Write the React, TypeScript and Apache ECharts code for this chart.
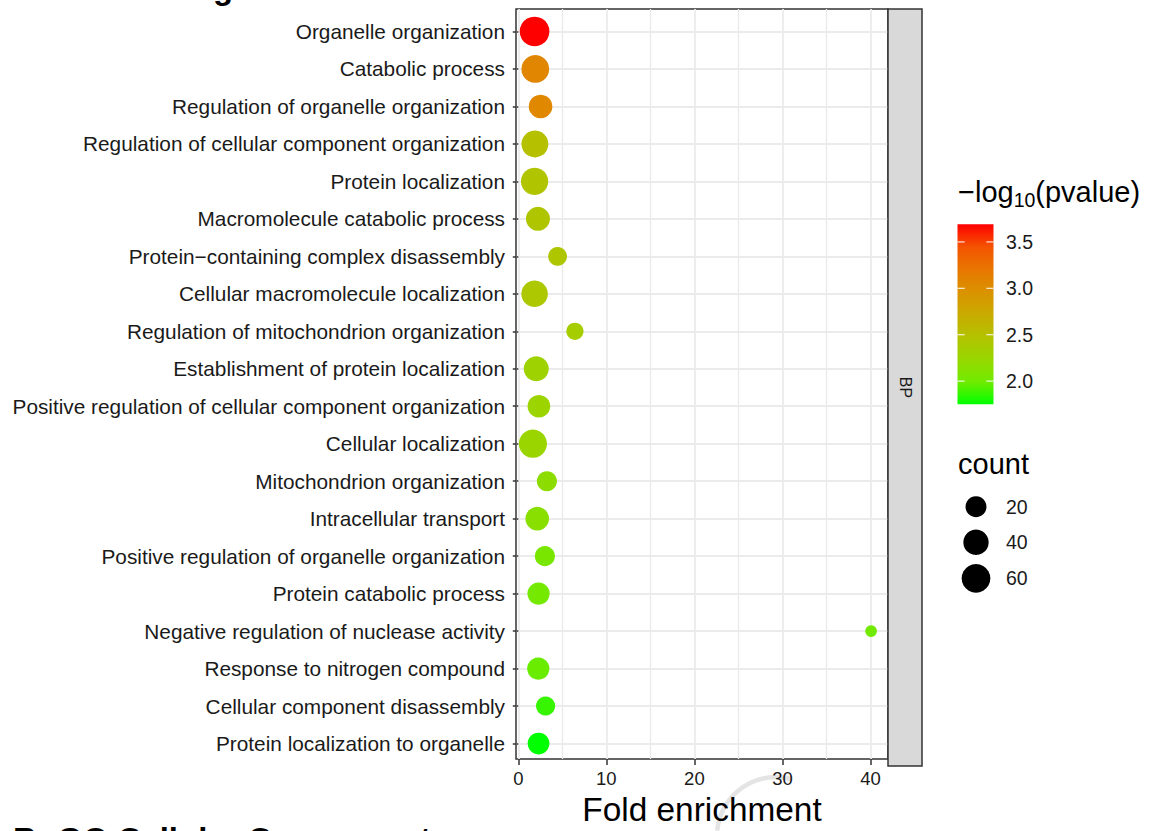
import { useEffect, useRef } from "react";
import * as echarts from "echarts";

// GO biological-process enrichment terms, ordered top to bottom
const terms = [
  "Organelle organization",
  "Catabolic process",
  "Regulation of organelle organization",
  "Regulation of cellular component organization",
  "Protein localization",
  "Macromolecule catabolic process",
  "Protein\u2212containing complex disassembly",
  "Cellular macromolecule localization",
  "Regulation of mitochondrion organization",
  "Establishment of protein localization",
  "Positive regulation of cellular component organization",
  "Cellular localization",
  "Mitochondrion organization",
  "Intracellular transport",
  "Positive regulation of organelle organization",
  "Protein catabolic process",
  "Negative regulation of nuclease activity",
  "Response to nitrogen compound",
  "Cellular component disassembly",
  "Protein localization to organelle",
];

const foldEnrichment = [
  1.85, 1.93, 2.53, 1.89, 1.85, 2.23, 4.46, 1.85, 6.43, 2.04,
  2.34, 1.66, 3.25, 2.15, 3.02, 2.3, 40.07, 2.27, 3.1, 2.3,
];

const geneCount = [
  67, 54, 31, 49, 51, 33, 13, 47, 9, 38,
  27, 57, 17, 31, 17, 25, 3, 25, 14, 23,
];

const negLog10P = [
  3.69, 3.07, 3.05, 2.5, 2.45, 2.44, 2.43, 2.42, 2.35, 2.29,
  2.27, 2.26, 2.17, 2.14, 2.05, 2.02, 2.0, 1.98, 1.87, 1.75,
];

const xTicks = [0, 10, 20, 30, 40];
const xMinorTicks = [5, 15, 25, 35];
const colorBreaks = [2.0, 2.5, 3.0, 3.5];
const sizeBreaks = [20, 40, 60];
const facetLabel = "BP";

// green -> red ramp, sampled in Lab space
const colorStops = [
  "#00FF00", "#70EB00", "#98D700", "#B3C200", "#C9AB00",
  "#DA9200", "#E87600", "#F45300", "#FF0000",
];

const FONT = '"Liberation Sans", Arial, Helvetica, sans-serif';
const W = 1150;
const H = 831;

// panel geometry
const PANEL_L = 516;
const PANEL_T = 9;
const PANEL_W = 372;
const PANEL_H = 757;
const STRIP_W = 34;

// point diameter range (px)
const D_MIN = 11.7;
const D_MAX = 29.7;

const GRID_COLOR = "#EBEBEB";
const BORDER_COLOR = "#333333";

function measure(text: string, size: number, weight = "normal"): number {
  const c = document.createElement("canvas").getContext("2d");
  if (!c) return text.length * size * 0.55;
  c.font = `${weight} ${size}px ${FONT}`;
  return c.measureText(text).width;
}

// y for a 'middle'-aligned text whose alphabetic baseline should sit at `baseline`
const midFromBaseline = (baseline: number, size: number) => baseline - 0.3465 * size;

export default function App() {
  const ref = useRef<HTMLDivElement>(null);

  useEffect(() => {
    const el = ref.current;
    if (!el) return;
    const chart = echarts.init(el, null, { renderer: "svg" });

    const n = terms.length;
    const fMin = Math.min(...foldEnrichment);
    const fMax = Math.max(...foldEnrichment);
    const xPad = 0.05 * (fMax - fMin);
    const xMin = fMin - xPad;
    const xMax = fMax + xPad;

    const pMin = Math.min(...negLog10P);
    const pMax = Math.max(...negLog10P);
    const cMin = Math.min(...geneCount);
    const cMax = Math.max(...geneCount);
    const sizeOf = (c: number) =>
      D_MIN + (D_MAX - D_MIN) * Math.sqrt((c - cMin) / (cMax - cMin));

    // discrete axis: 0.6 step of padding at both ends
    const step = PANEL_H / (n - 1 + 1.2);
    const catTop = PANEL_T + 0.6 * step;
    const catH = (n - 1) * step;

    const data = terms.map((t, i) => [foldEnrichment[i], t, negLog10P[i], geneCount[i]]);

    // ---- colour bar legend ----
    const cbX = 957.5;
    const cbW = 36;
    const cbTop = 224.3;
    const cbH = 180;
    const cbY = (v: number) => cbTop + cbH - ((v - pMin) / (pMax - pMin)) * cbH;
    const gradient = new echarts.graphic.LinearGradient(
      0, 0, 0, 1,
      colorStops
        .slice()
        .reverse()
        .map((c, i) => ({ offset: i / (colorStops.length - 1), color: c }))
    );

    const titleSize = 29;
    const subSize = 19.5;
    const titleBase = 202;
    const tx0 = 958;
    const w1 = measure("\u2212log", titleSize);
    const w2 = measure("10", subSize);
    const legendText = 19.5;

    const graphics: any[] = [];

    // faint watermark stroke behind the axis title
    graphics.push({
      type: "arc",
      shape: { cx: 776, cy: 836, r: 59, startAngle: -3.05, endAngle: -1.31, clockwise: true },
      style: { stroke: "#E4E4E4", lineWidth: 4.5, fill: null },
      z: -1,
    });

    // facet strip
    graphics.push({
      type: "rect",
      shape: { x: PANEL_L + PANEL_W, y: PANEL_T, width: STRIP_W, height: PANEL_H },
      style: { fill: "#D9D9D9", stroke: BORDER_COLOR, lineWidth: 1.5 },
      z: 10,
    });
    graphics.push({
      type: "text",
      x: PANEL_L + PANEL_W + STRIP_W / 2,
      y: PANEL_T + PANEL_H / 2,
      rotation: -Math.PI / 2,
      style: {
        text: facetLabel,
        fontSize: 16,
        fontFamily: FONT,
        fill: "#1A1A1A",
        align: "center",
        verticalAlign: "middle",
      },
      z: 11,
    });

    // colour legend title: −log10(pvalue)
    graphics.push({
      type: "text",
      x: tx0,
      y: midFromBaseline(titleBase, titleSize),
      style: { text: "\u2212log", fontSize: titleSize, fontFamily: FONT, fill: "#000", align: "left", verticalAlign: "middle" },
    });
    graphics.push({
      type: "text",
      x: tx0 + w1,
      y: midFromBaseline(titleBase + 5, subSize),
      style: { text: "10", fontSize: subSize, fontFamily: FONT, fill: "#000", align: "left", verticalAlign: "middle" },
    });
    graphics.push({
      type: "text",
      x: tx0 + w1 + w2,
      y: midFromBaseline(titleBase, titleSize),
      style: { text: "(pvalue)", fontSize: titleSize, fontFamily: FONT, fill: "#000", align: "left", verticalAlign: "middle" },
    });

    // colour bar
    graphics.push({
      type: "rect",
      shape: { x: cbX, y: cbTop, width: cbW, height: cbH },
      style: { fill: gradient },
    });
    colorBreaks.forEach((v) => {
      const y = cbY(v);
      graphics.push({
        type: "line",
        shape: { x1: cbX, y1: y, x2: cbX + cbW / 5, y2: y },
        style: { stroke: "#FFFFFF", lineWidth: 1.2, opacity: 0.85 },
      });
      graphics.push({
        type: "line",
        shape: { x1: cbX + cbW - cbW / 5, y1: y, x2: cbX + cbW, y2: y },
        style: { stroke: "#FFFFFF", lineWidth: 1.2, opacity: 0.85 },
      });
      graphics.push({
        type: "text",
        x: 1006,
        y,
        style: { text: v.toFixed(1), fontSize: legendText, fontFamily: FONT, fill: "#1A1A1A", align: "left", verticalAlign: "middle" },
      });
    });

    // size legend
    graphics.push({
      type: "text",
      x: 958,
      y: midFromBaseline(474.3, 29),
      style: { text: "count", fontSize: 29, fontFamily: FONT, fill: "#000", align: "left", verticalAlign: "middle" },
    });
    const sizeRowY = [506.7, 542.3, 578.3];
    sizeBreaks.forEach((c, i) => {
      graphics.push({
        type: "circle",
        shape: { cx: 976, cy: sizeRowY[i], r: sizeOf(c) / 2 },
        style: { fill: "#000" },
      });
      graphics.push({
        type: "text",
        x: 1006,
        y: sizeRowY[i],
        style: { text: String(c), fontSize: legendText, fontFamily: FONT, fill: "#1A1A1A", align: "left", verticalAlign: "middle" },
      });
    });

    // panel titles of the surrounding figure
    graphics.push({
      type: "text",
      x: 26,
      y: midFromBaseline(-1, 33),
      style: { text: "A: GO Biological Process", fontSize: 33, fontWeight: "bold", fontFamily: FONT, fill: "#000", align: "left", verticalAlign: "middle" },
    });
    graphics.push({
      type: "text",
      x: 13,
      y: midFromBaseline(850.5, 33),
      style: { text: "B: GO Cellular Component", fontSize: 33, fontWeight: "bold", fontFamily: FONT, fill: "#000", align: "left", verticalAlign: "middle" },
    });

    const option: any = {
      animation: false,
      backgroundColor: "#FFFFFF",
      textStyle: { fontFamily: FONT },
      grid: [
        {
          left: PANEL_L,
          top: PANEL_T,
          width: PANEL_W,
          height: PANEL_H,
          show: true,
          backgroundColor: "#FFFFFF",
          borderColor: BORDER_COLOR,
          borderWidth: 1.5,
          containLabel: false,
        },
        {
          left: PANEL_L,
          top: catTop,
          width: PANEL_W,
          height: catH,
          containLabel: false,
        },
      ],
      xAxis: [
        {
          type: "value",
          gridIndex: 0,
          min: xMin,
          max: xMax,
          position: "bottom",
          axisLine: { show: false },
          axisTick: {
            show: true,
            customValues: xTicks,
            length: 6,
            lineStyle: { color: BORDER_COLOR, width: 1.5 },
          },
          axisLabel: {
            show: true,
            customValues: xTicks,
            fontSize: 18.5,
            color: "#1A1A1A",
            margin: 10,
            fontFamily: FONT,
          },
          splitLine: { show: true, lineStyle: { color: GRID_COLOR, width: 1.8 } },
          name: "Fold enrichment",
          nameLocation: "middle",
          nameGap: 34,
          nameTextStyle: { fontSize: 33.4, color: "#000", fontFamily: FONT },
        },
        {
          type: "value",
          gridIndex: 0,
          min: xMin,
          max: xMax,
          position: "top",
          axisLine: { show: false },
          axisTick: { show: false, customValues: xMinorTicks },
          axisLabel: { show: false, customValues: xMinorTicks },
          splitLine: { show: true, lineStyle: { color: GRID_COLOR, width: 1.4 } },
        },
        {
          type: "value",
          gridIndex: 1,
          min: xMin,
          max: xMax,
          show: false,
        },
      ],
      yAxis: [
        {
          type: "value",
          gridIndex: 0,
          min: 0,
          max: 1,
          show: false,
        },
        {
          type: "category",
          gridIndex: 1,
          data: terms,
          inverse: true,
          boundaryGap: false,
          axisLine: { show: false },
          axisTick: {
            show: true,
            length: 5.5,
            lineStyle: { color: BORDER_COLOR, width: 1.5 },
          },
          axisLabel: {
            show: true,
            interval: 0,
            fontSize: 20.8,
            color: "#1A1A1A",
            margin: 11,
            fontFamily: FONT,
          },
          splitLine: { show: true, interval: 0, lineStyle: { color: GRID_COLOR, width: 1.8 } },
        },
      ],
      visualMap: {
        type: "continuous",
        show: false,
        seriesIndex: 0,
        dimension: 2,
        min: pMin,
        max: pMax,
        inRange: { color: colorStops },
      },
      series: [
        {
          type: "scatter",
          xAxisIndex: 2,
          yAxisIndex: 1,
          data,
          encode: { x: 0, y: 1 },
          symbol: "circle",
          symbolSize: (val: any) => sizeOf(val[3]),
          itemStyle: { opacity: 1 },
          emphasis: { disabled: true },
          z: 5,
        },
      ],
      graphic: { elements: graphics },
    };

    chart.setOption(option);
    return () => chart.dispose();
  }, []);

  return (
    <div
      ref={ref}
      style={{ position: "fixed", left: 0, top: 0, width: W, height: H, background: "#FFFFFF" }}
    />
  );
}
